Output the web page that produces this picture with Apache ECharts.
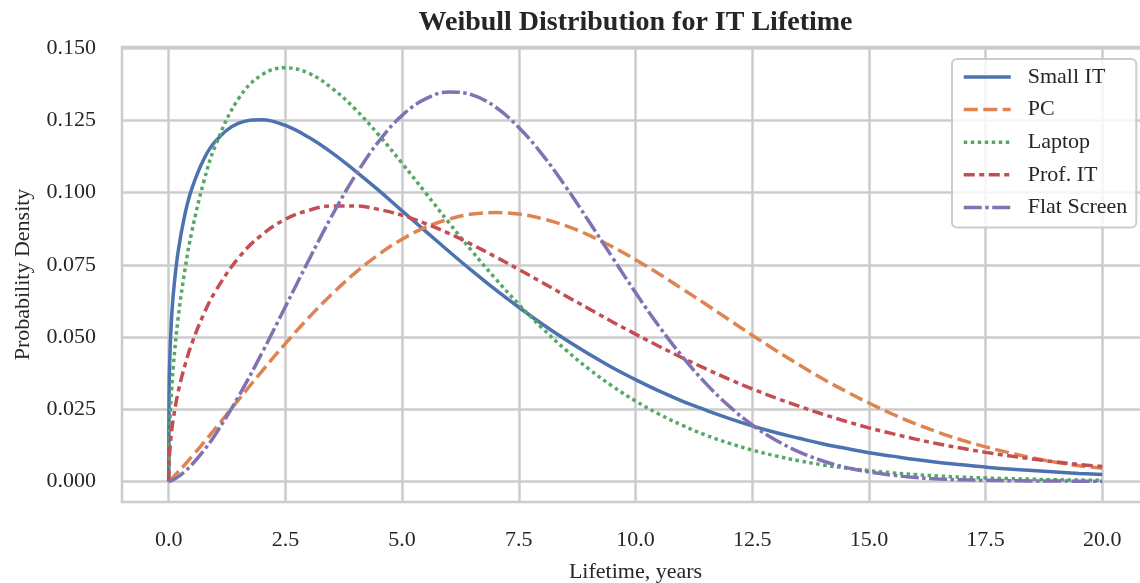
<!DOCTYPE html>
<html>
<head>
<meta charset="utf-8">
<script src="https://cdn.jsdelivr.net/npm/echarts@6/dist/echarts.min.js"></script>
<style>
html, body { margin: 0; padding: 0; background: #ffffff; }
#chart { width: 1140px; height: 583px; }
</style>
</head>
<body>
<div id="chart"></div>
<script>
// Lifetime (years) sample points
const xs = [0, 0.01, 0.02, 0.05, 0.1, 0.2, 0.35, 0.5, 0.75, 1, 1.5, 2, 2.5, 3, 3.5, 4, 4.5, 5, 5.5, 6, 6.5, 7, 7.5, 8, 8.5, 9, 9.5, 10, 10.5, 11, 11.5, 12, 12.5, 13, 13.5, 14, 14.5, 15, 15.5, 16, 16.5, 17, 17.5, 18, 18.5, 19, 19.5, 20];

const smallIT = [0, 0.0327, 0.0403, 0.0529, 0.0650, 0.0794, 0.0927, 0.1016, 0.1115, 0.1178, 0.1241, 0.1253, 0.1233, 0.1192, 0.1138, 0.1075, 0.1008, 0.0937, 0.0867, 0.0797, 0.0729, 0.0664, 0.0603, 0.0545, 0.0491, 0.0441, 0.0394, 0.0352, 0.0313, 0.0278, 0.0247, 0.0218, 0.0192, 0.0169, 0.0149, 0.0130, 0.0114, 0.0099, 0.0087, 0.0075, 0.0065, 0.0057, 0.0049, 0.0042, 0.0037, 0.0032, 0.0027, 0.0023];

const pc = [0, 0.0001, 0.0003, 0.0007, 0.0015, 0.0032, 0.0058, 0.0086, 0.0134, 0.0183, 0.0283, 0.0382, 0.0477, 0.0567, 0.0649, 0.0723, 0.0786, 0.0839, 0.0880, 0.0908, 0.0926, 0.0931, 0.0926, 0.0910, 0.0886, 0.0853, 0.0813, 0.0768, 0.0719, 0.0667, 0.0614, 0.0560, 0.0506, 0.0454, 0.0404, 0.0356, 0.0312, 0.0271, 0.0233, 0.0199, 0.0169, 0.0142, 0.0119, 0.0099, 0.0081, 0.0066, 0.0054, 0.0045];

const laptop = [0, 0.0126, 0.0179, 0.0283, 0.0399, 0.0562, 0.0735, 0.0868, 0.1037, 0.1163, 0.1327, 0.1409, 0.1433, 0.1414, 0.1362, 0.1289, 0.1200, 0.1102, 0.1000, 0.0897, 0.0797, 0.0702, 0.0613, 0.0531, 0.0456, 0.0389, 0.0330, 0.0278, 0.0233, 0.0194, 0.0160, 0.0132, 0.0108, 0.0088, 0.0071, 0.0057, 0.0046, 0.0037, 0.0029, 0.0023, 0.0018, 0.0014, 0.0011, 0.0009, 0.0007, 0.0005, 0.0004, 0.0003];

const profIT = [0, 0.0069, 0.0097, 0.0154, 0.0217, 0.0307, 0.0403, 0.0479, 0.0579, 0.0658, 0.0775, 0.0855, 0.0908, 0.0939, 0.0954, 0.0954, 0.0942, 0.0922, 0.0893, 0.0859, 0.0820, 0.0778, 0.0734, 0.0689, 0.0643, 0.0598, 0.0553, 0.0510, 0.0468, 0.0428, 0.0390, 0.0354, 0.0320, 0.0289, 0.0260, 0.0233, 0.0208, 0.0185, 0.0165, 0.0146, 0.0129, 0.0114, 0.0100, 0.0088, 0.0077, 0.0067, 0.0058, 0.0051];

const flatScreen = [0, 0, 0, 0.0002, 0.0005, 0.0015, 0.0034, 0.0058, 0.0106, 0.0162, 0.0295, 0.0445, 0.0605, 0.0766, 0.0921, 0.1060, 0.1178, 0.1268, 0.1325, 0.1349, 0.1339, 0.1297, 0.1226, 0.1133, 0.1022, 0.0901, 0.0777, 0.0654, 0.0538, 0.0433, 0.0340, 0.0261, 0.0195, 0.0143, 0.0102, 0.0071, 0.0048, 0.0032, 0.0021, 0.0013, 0.0008, 0.0005, 0.0003, 0.0002, 0.0001, 0.0001, 0, 0];

const seriesNames = ['Small IT', 'PC', 'Laptop', 'Prof. IT', 'Flat Screen'];
const xTicks = [0, 2.5, 5, 7.5, 10, 12.5, 15, 17.5, 20];
const yTicks = [0, 0.025, 0.05, 0.075, 0.1, 0.125, 0.15];

const SERIF = '"Liberation Serif", "DejaVu Serif", serif';
const TXT = '#262626';
const GRID = '#cccccc';
const LW = 3.5;

const values = [smallIT, pc, laptop, profIT, flatScreen];
const colors = ['#4c72b0', '#dd8452', '#55a868', '#c44e52', '#8172b3'];
const dashes = ['solid', [14, 5.5], [3.5, 3.5], [11, 4.5, 5, 4.5], [18, 3.5, 3.5, 3.5]];

const chart = echarts.init(document.getElementById('chart'), null, { renderer: 'canvas' });

const series = seriesNames.map((name, i) => ({
  name: name,
  type: 'line',
  data: xs.map((x, j) => [x, values[i][j]]),
  showSymbol: false,
  symbol: 'none',
  smooth: 0.4,
  clip: true,
  color: colors[i],
  lineStyle: { color: colors[i], width: LW, type: dashes[i], cap: 'butt' },
  emphasis: { disabled: true },
  z: 3 + i
}));

chart.setOption({
  animation: false,
  backgroundColor: '#ffffff',
  title: {
    text: 'Weibull Distribution for IT Lifetime',
    left: 635.5,
    top: 9,
    padding: 0,
    textAlign: 'center',
    textStyle: { fontFamily: SERIF, fontSize: 28, fontWeight: 'bold', color: TXT }
  },
  grid: {
    left: 122, right: -9, top: 47, bottom: 81,
    show: true, borderColor: GRID, borderWidth: 2.5, backgroundColor: 'transparent',
    outerBoundsMode: 'none', containLabel: false
  },
  legend: {
    orient: 'vertical',
    left: 952, top: 59,
    padding: [7, 9, 9, 10],
    itemWidth: 47, itemHeight: 14, itemGap: 10.6,
    backgroundColor: 'rgba(255,255,255,0.8)',
    borderColor: GRID, borderWidth: 2, borderRadius: 5,
    itemStyle: { opacity: 0, borderWidth: 0 },
    lineStyle: { width: LW },
    textStyle: { fontFamily: SERIF, fontSize: 22, color: TXT, padding: [0, 0, 0, 12] },
    data: seriesNames,
    selectedMode: false
  },
  xAxis: {
    type: 'value', min: -1, max: 21,
    name: 'Lifetime, years', nameLocation: 'middle', nameGap: 59,
    nameTextStyle: { fontFamily: SERIF, fontSize: 22, color: TXT },
    axisLine: { show: false },
    axisTick: { show: false, customValues: xTicks },
    axisLabel: { customValues: xTicks, formatter: v => v.toFixed(1), fontFamily: SERIF, fontSize: 22, color: TXT, margin: 27 },
    splitLine: { show: true, lineStyle: { color: GRID, width: 2.5 } }
  },
  yAxis: {
    type: 'value', min: -0.0072, max: 0.1505,
    name: 'Probability Density', nameLocation: 'middle', nameGap: 88,
    nameTextStyle: { fontFamily: SERIF, fontSize: 22, color: TXT },
    axisLine: { show: false },
    axisTick: { show: false, customValues: yTicks },
    axisLabel: { customValues: yTicks, formatter: v => v.toFixed(3), fontFamily: SERIF, fontSize: 22, color: TXT, margin: 26 },
    splitLine: { show: true, lineStyle: { color: GRID, width: 2.5 } }
  },
  series: series
});
</script>
</body>
</html>
